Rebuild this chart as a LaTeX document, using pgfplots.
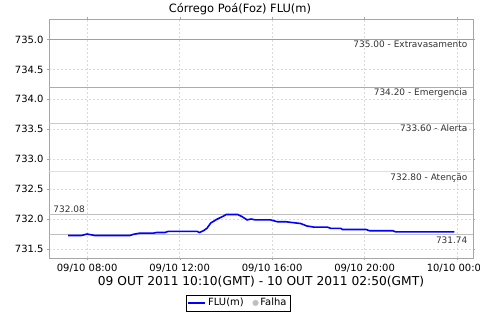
\documentclass[border=0pt]{standalone}
\usepackage{pgfplots}
\pgfplotsset{compat=1.18}
\usepackage{fontspec}
\setmainfont{DejaVu Sans}
\definecolor{thrA}{rgb}{0.94,0.49,0.49}
\definecolor{thrB}{rgb}{0.94,0.49,0.94}
\definecolor{thrC}{rgb}{1.0,0.75,0.47}
\definecolor{thrD}{rgb}{1.0,0.89,0.48}
\definecolor{mmgray}{rgb}{0.75,0.75,0.75}
\definecolor{gridc}{rgb}{0.85,0.85,0.85}
\begin{document}
\begin{tikzpicture}
\begin{axis}[
  scale only axis, width=424bp, height=239bp,
  xmin=6.35, xmax=24.69, ymin=731.355, ymax=735.34,
  xtick={8,12,16,20,24},
  xticklabels={09/10 08:00,09/10 12:00,09/10 16:00,09/10 20:00,10/10 00:00},
  ytick={731.5,732,732.5,733,733.5,734,734.5,735},
  /pgf/number format/assume math mode=true,
  yticklabel style={/pgf/number format/.cd, fixed, fixed zerofill, precision=1, 1000 sep={}},
  ticklabel style={font=\fontsize{10}{12}\selectfont},
  xticklabel style={anchor=center, yshift=-8bp},
  tick align=outside, major tick length=2bp,
  tick style={color=gray!70},
  axis line style={color=gray!70},
  grid=major,
  major grid style={color=gridc, dash pattern=on 2bp off 2bp, line width=0.5bp},
  every axis title shift=0pt,
  title={Córrego Poá(Foz) FLU(m)},
  title style={font=\fontsize{11.5}{13}\selectfont, at={(0.4505,1)}, anchor=base, yshift=6.3bp},
  xlabel={09 OUT 2011 10:10(GMT) - 10 OUT 2011 02:50(GMT)},
  xlabel style={font=\fontsize{12.3}{14}\selectfont, at={(0.5,0)}, anchor=center, yshift=-24bp},
  legend style={at={(0.4458,-0.188)}, anchor=center, legend columns=2, draw=black,
    font=\fontsize{10}{12}\selectfont, inner sep=1.5bp, /tikz/every even column/.append style={column sep=7bp}},
  legend cell align=left,
  clip=true,
]
\addplot[draw=thrA, line width=1bp, forget plot] coordinates {(6.35,735) (24.69,735)};
\addplot[draw=thrB, line width=1bp, forget plot] coordinates {(6.35,734.2) (24.69,734.2)};
\addplot[draw=thrC, line width=1bp, forget plot] coordinates {(6.35,733.6) (24.69,733.6)};
\addplot[draw=thrD, line width=1bp, forget plot] coordinates {(6.35,732.8) (24.69,732.8)};
\addplot[draw=mmgray, line width=1bp, forget plot] coordinates {(6.35,732.08) (24.69,732.08)};
\addplot[draw=mmgray, line width=1bp, forget plot] coordinates {(6.35,731.74) (24.69,731.74)};
\addplot[color=blue, line width=1.6bp] coordinates {
(7.18,731.73) (7.75,731.73) (8.0,731.755) (8.33,731.73) (9.85,731.73)
(10.0,731.75) (10.29,731.77) (10.87,731.77) (11.01,731.78) (11.37,731.78)
(11.51,731.80) (12.75,731.80) (12.86,731.78) (13.03,731.81) (13.18,731.85)
(13.35,731.94) (13.61,732.0) (13.90,732.055) (14.02,732.08) (14.51,732.08)
(14.70,732.045) (14.92,731.99) (15.09,732.005) (15.28,731.99) (15.93,731.99)
(16.04,731.98) (16.22,731.96) (16.58,731.96) (16.79,731.95) (17.23,731.93)
(17.37,731.91) (17.49,731.89) (17.81,731.87) (18.39,731.87) (18.53,731.85)
(18.97,731.85) (19.04,731.83) (20.07,731.83) (20.21,731.81) (21.21,731.81)
(21.35,731.79) (23.88,731.79)
};
\addlegendentry{FLU(m)}
\addlegendimage{only marks, mark=*, mark size=2.8bp, color=mmgray}
\addlegendentry{Falha}
\begin{scope}[every node/.style={font=\fontsize{9}{11}\selectfont, inner sep=1.5bp, text=black!80}]
\node[anchor=north east] at (axis cs:24.52,735) {735.00 - Extravasamento};
\node[anchor=north east] at (axis cs:24.52,734.2) {734.20 - Emergencia};
\node[anchor=north east] at (axis cs:24.52,733.6) {733.60 - Alerta};
\node[anchor=north east] at (axis cs:24.52,732.8) {732.80 - Atenção};
\node[anchor=north east] at (axis cs:24.52,731.74) {731.74};
\node[anchor=south west] at (axis cs:6.47,732.08) {732.08};
\end{scope}
\end{axis}
\pgfresetboundingbox
\path (current axis.south west) ++(-49bp,-62bp) rectangle ++(480bp,320bp);
\end{tikzpicture}
\end{document}
